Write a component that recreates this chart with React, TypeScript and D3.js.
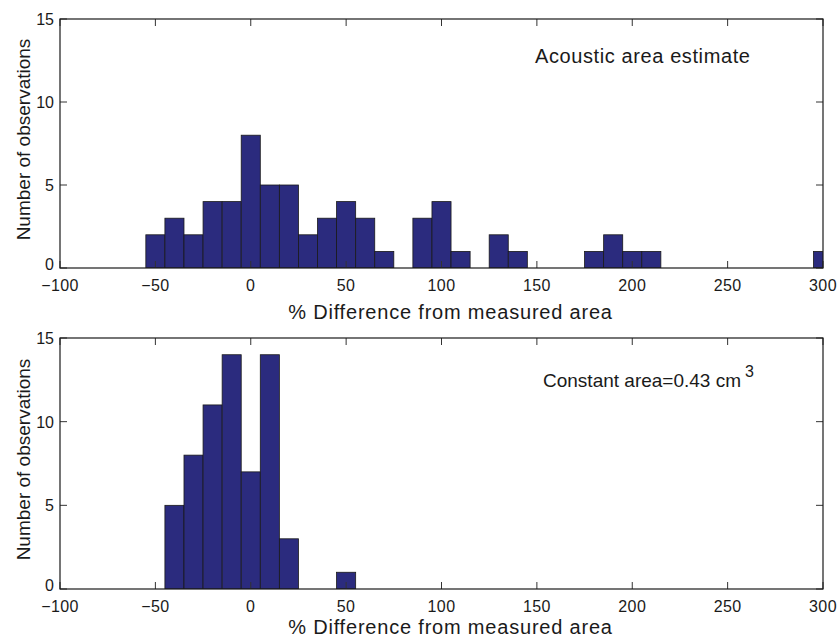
import React, { useEffect, useRef } from "react";
import * as d3 from "d3";

// bin centres (% difference) and counts, bin width 10
const topCenters = [-50, -40, -30, -20, -10, 0, 10, 20, 30, 40, 50, 60, 70, 90, 100, 110, 130, 140, 180, 190, 200, 210, 300];
const topCounts = [2, 3, 2, 4, 4, 8, 5, 5, 2, 3, 4, 3, 1, 3, 4, 1, 2, 1, 1, 2, 1, 1, 1];

const bottomCenters = [-40, -30, -20, -10, 0, 10, 20, 50];
const bottomCounts = [5, 8, 11, 14, 7, 14, 3, 1];

const xTicks = [-100, -50, 0, 50, 100, 150, 200, 250, 300];
const yTicks = [0, 5, 10, 15];

const binWidth = 10;
const xLabel = "% Difference from measured area";
const yLabel = "Number of observations";

function App() {
  const svgRef = useRef<SVGSVGElement>(null);

  useEffect(() => {
    const width = 839;
    const height = 639;
    const left = 60;
    const right = 823;
    const font = "'Liberation Sans', Arial, sans-serif";
    const ink = "#1a1a1a";

    const svg = d3.select(svgRef.current);
    svg.selectAll("*").remove();
    svg.attr("width", width).attr("height", height);

    const x = d3.scaleLinear().domain([-100, 300]).range([left, right]);

    const panels = [
      { top: 19, bottom: 268, labelGap: 51, centers: topCenters, counts: topCounts },
      { top: 338, bottom: 589, labelGap: 45, centers: bottomCenters, counts: bottomCounts },
    ];

    panels.forEach((p, pi) => {
      const y = d3.scaleLinear().domain([0, 15]).range([p.bottom, p.top]);
      const g = svg.append("g");

      const clipId = `clip${pi}`;
      g.append("clipPath")
        .attr("id", clipId)
        .append("rect")
        .attr("x", left)
        .attr("y", p.top)
        .attr("width", right - left)
        .attr("height", p.bottom - p.top);

      // bars
      g.append("g")
        .attr("clip-path", `url(#${clipId})`)
        .selectAll("rect")
        .data(p.centers.map((c, i) => ({ c, n: p.counts[i] })))
        .enter()
        .append("rect")
        .attr("x", (d) => x(d.c - binWidth / 2))
        .attr("width", (d) => x(d.c + binWidth / 2) - x(d.c - binWidth / 2))
        .attr("y", (d) => y(d.n))
        .attr("height", (d) => y(0) - y(d.n))
        .attr("fill", "#2b2b7e")
        .attr("stroke", "#1a1a1a")
        .attr("stroke-width", 0.8);

      // ticks (inward, all four sides)
      const tickLen = 7;
      xTicks.forEach((t) => {
        g.append("line")
          .attr("x1", x(t)).attr("x2", x(t))
          .attr("y1", p.bottom).attr("y2", p.bottom - tickLen)
          .attr("stroke", "#333").attr("stroke-width", 1);
        g.append("line")
          .attr("x1", x(t)).attr("x2", x(t))
          .attr("y1", p.top).attr("y2", p.top + tickLen)
          .attr("stroke", "#333").attr("stroke-width", 1);
        g.append("text")
          .attr("x", x(t))
          .attr("y", p.bottom + 23)
          .attr("text-anchor", "middle")
          .attr("font-family", font)
          .attr("font-size", 16)
          .attr("letter-spacing", 0.4)
          .attr("fill", ink)
          .text(t < 0 ? `\u2212${Math.abs(t)}` : `${t}`);
      });
      yTicks.forEach((t) => {
        g.append("line")
          .attr("x1", left).attr("x2", left + tickLen)
          .attr("y1", y(t)).attr("y2", y(t))
          .attr("stroke", "#333").attr("stroke-width", 1);
        g.append("line")
          .attr("x1", right).attr("x2", right - tickLen)
          .attr("y1", y(t)).attr("y2", y(t))
          .attr("stroke", "#333").attr("stroke-width", 1);
        g.append("text")
          .attr("x", left - 6)
          .attr("y", y(t) + (t === 0 ? 2 : 6))
          .attr("text-anchor", "end")
          .attr("font-family", font)
          .attr("font-size", 16)
          .attr("fill", ink)
          .text(`${t}`);
      });

      // frame
      g.append("rect")
        .attr("x", left)
        .attr("y", p.top)
        .attr("width", right - left)
        .attr("height", p.bottom - p.top)
        .attr("fill", "none")
        .attr("stroke", ink)
        .attr("stroke-width", 1.2);

      // axis labels
      g.append("text")
        .attr("x", (left + right) / 2 + 9)
        .attr("y", p.bottom + p.labelGap)
        .attr("text-anchor", "middle")
        .attr("font-family", font)
        .attr("font-size", 20)
        .attr("letter-spacing", 0.8)
        .attr("fill", ink)
        .text(xLabel);

      g.append("text")
        .attr("transform", `translate(30,${(p.top + p.bottom) / 2 - 4}) rotate(-90)`)
        .attr("text-anchor", "middle")
        .attr("font-family", font)
        .attr("font-size", 19)
        .attr("fill", ink)
        .text(yLabel);
    });

    // annotations
    svg.append("text")
      .attr("x", 535)
      .attr("y", 63)
      .attr("font-family", font)
      .attr("font-size", 20)
      .attr("letter-spacing", 0.6)
      .attr("fill", ink)
      .text("Acoustic area estimate");

    const ann = svg.append("text")
      .attr("x", 543)
      .attr("y", 387)
      .attr("font-family", font)
      .attr("font-size", 19)
      .attr("fill", ink);
    ann.append("tspan").text("Constant area=0.43 cm");
    ann.append("tspan").attr("dx", 4).attr("dy", -10).attr("font-size", 16).text("3");
  }, []);

  return <svg ref={svgRef} style={{ display: "block", position: "absolute", left: 0, top: 0 }}></svg>;
}

export default App;
